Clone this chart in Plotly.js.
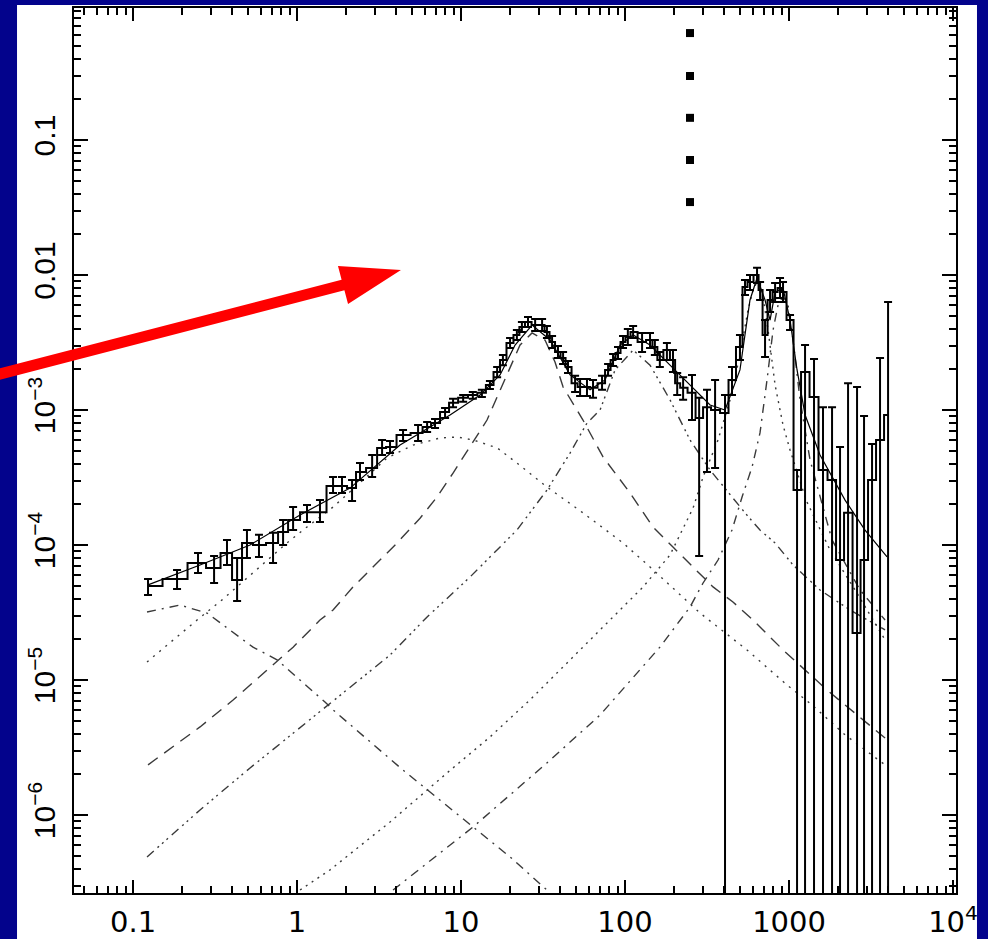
<!DOCTYPE html>
<html>
<head>
<meta charset="utf-8">
<script src="https://cdn.plot.ly/plotly-3.0.1.min.js"></script>
<style>html,body{margin:0;padding:0;background:#03038c;}#chart{width:988px;height:939px;}</style>
</head>
<body>
<div id="chart"></div>
<script>
// ---- observed power spectrum (frequency, power, error-bar upper / lower ends) ----
const freq = [0.1234, 0.1855, 0.249, 0.312, 0.374, 0.431, 0.495, 0.586, 0.714, 0.822,
  0.946, 1.15, 1.38, 1.658, 1.88, 2.165, 2.42, 2.87, 3.30, 3.69,
  4.43, 5.47, 6.21, 6.94, 7.99, 8.94, 10.3, 11.8, 13.4, 15.0,
  16.6, 18.0, 19.9, 21.9, 23.5, 25.6, 28.3, 31.2, 33.4, 35.9,
  39.0, 41.9, 44.9, 49.6, 53.2, 58.6, 63.8, 72.4, 78.8, 84.5,
  90.6, 97.2, 104, 112, 127, 142, 152, 163, 180, 196,
  208, 226, 256, 283, 316, 354, 407, 449, 502, 539,
  578, 638, 666, 714, 766, 822, 881, 919, 1014, 1119,
  1252, 1420, 1611, 1829, 2046, 2290, 2598, 2866, 3207, 3588, 4016];
const power = [4.97e-5, 5.6e-5, 7.36e-5, 6.76e-5, 8.73e-5, 5.5e-5, 1.035e-4, 1.0e-4, 1.035e-4, 1.25e-4,
  1.53e-4, 1.75e-4, 1.75e-4, 2.74e-4, 2.74e-4, 2.64e-4, 3.47e-4, 3.72e-4, 5.23e-4, 5.32e-4,
  6.53e-4, 6.76e-4, 7.48e-4, 8.0e-4, 9.66e-4, 1.13e-3, 1.23e-3, 1.29e-3, 1.34e-3, 1.53e-3,
  1.91e-3, 2.35e-3, 3.13e-3, 3.59e-3, 4.12e-3, 4.49e-3, 4.26e-3, 4.26e-3, 3.78e-3, 3.19e-3,
  2.69e-3, 2.43e-3, 2.08e-3, 1.58e-3, 1.48e-3, 1.48e-3, 1.46e-3, 1.58e-3, 1.98e-3, 2.35e-3,
  2.64e-3, 3.19e-3, 3.47e-3, 3.78e-3, 3.19e-3, 3.3e-3, 2.93e-3, 2.35e-3, 2.78e-3, 2.35e-3,
  1.58e-3, 1.46e-3, 1.34e-3, 8.73e-4, 1.05e-3, 1.0e-3, 9.5e-4, 1.67e-3, 2.93e-3, 8.15e-3,
  8.87e-3, 1.0e-2, 7.74e-3, 3.59e-3, 6.53e-3, 7.48e-3, 8.0e-3, 7.48e-3, 4.64e-3, 2.55e-4,
  1.91e-3, 1.25e-3, 3.59e-4, 3.03e-4, 7.74e-5, 1.73e-4, 2.23e-5, 7.74e-5, 3.03e-4, 6.0e-4, 9.18e-4];
const powerHi = [5.6e-5, 6.53e-5, 8.73e-5, 8.3e-5, 1.09e-4, 8.0e-5, 1.29e-4, 1.19e-4, 1.23e-4, 1.53e-4,
  1.91e-4, 1.98e-4, 2.15e-4, 3.19e-4, 3.19e-4, 3.03e-4, 4.05e-4, 4.64e-4, 6.0e-4, 5.9e-4,
  7.11e-4, 7.74e-4, 8.15e-4, 8.58e-4, 1.035e-3, 1.21e-3, 1.29e-3, 1.36e-3, 1.41e-3, 1.64e-3,
  2.08e-3, 2.55e-3, 3.41e-3, 3.91e-3, 4.49e-3, 4.89e-3, 4.72e-3, 4.72e-3, 4.19e-3, 3.53e-3,
  2.98e-3, 2.69e-3, 2.31e-3, 1.79e-3, 1.7e-3, 1.7e-3, 1.67e-3, 1.79e-3, 2.19e-3, 2.6e-3,
  2.93e-3, 3.53e-3, 3.98e-3, 4.19e-3, 3.72e-3, 3.72e-3, 3.3e-3, 2.69e-3, 3.13e-3, 2.78e-3,
  1.88e-3, 1.75e-3, 1.82e-3, 1.23e-3, 1.41e-3, 1.67e-3, 1.29e-3, 2.08e-3, 3.59e-3, 9.18e-3,
  1.0e-2, 1.13e-2, 8.87e-3, 4.64e-3, 7.74e-3, 8.73e-3, 9.5e-3, 8.87e-3, 5.06e-3, 3.59e-4,
  3.03e-3, 2.39e-3, 1.05e-3, 1.05e-3, 5.32e-4, 1.58e-3, 1.48e-3, 9.03e-4, 5.6e-4, 2.43e-3, 6.31e-3];
const powerLo = [4.26e-5, 4.72e-5, 6.2e-5, 5.23e-5, 7.11e-5, 3.85e-5, 8.0e-5, 8.15e-5, 7.36e-5, 1.0e-4,
  1.29e-4, 1.48e-4, 1.48e-4, 2.43e-4, 2.43e-4, 2.12e-4, 3.03e-4, 3.19e-4, 4.64e-4, 4.8e-4,
  5.9e-4, 5.9e-4, 6.87e-4, 7.36e-4, 8.73e-4, 1.05e-3, 1.15e-3, 1.21e-3, 1.25e-3, 1.43e-3,
  1.75e-3, 2.15e-3, 2.88e-3, 3.3e-3, 3.78e-3, 4.12e-3, 3.85e-3, 3.85e-3, 3.41e-3, 2.88e-3,
  2.43e-3, 2.19e-3, 1.88e-3, 1.36e-3, 1.27e-3, 1.27e-3, 1.23e-3, 1.41e-3, 1.79e-3, 2.12e-3,
  2.39e-3, 2.88e-3, 3.03e-3, 3.41e-3, 2.69e-3, 2.88e-3, 2.55e-3, 2.08e-3, 2.35e-3, 1.91e-3,
  1.29e-3, 1.19e-3, 8.43e-4, 8.3e-5, 3.47e-4, 3.72e-4, 1e-9, 1.29e-3, 2.35e-3, 7.11e-3,
  7.74e-3, 8.73e-3, 6.53e-3, 2.47e-3, 5.32e-3, 6.31e-3, 6.76e-3, 6.31e-3, 3.91e-3, 1e-9,
  1e-9, 1e-9, 1e-9, 1e-9, 1e-9, 1e-9, 1e-9, 1e-9, 1e-9, 1e-9, 1e-9];

// ---- total model ----
const modelX = [0.1234, 0.2562, 0.517, 1.043, 2.104, 4.246, 8.57, 13.06, 17.29, 21.35, 27.1, 34.9, 46.2, 61.2, 75.5, 93.2, 112, 142, 188, 249, 330, 407, 502, 578, 638, 714, 766, 822, 919, 1014, 1119, 1253, 1545, 2196, 2906, 3960];
const modelY = [5.06e-5, 7.11e-5, 1.0e-4, 1.67e-4, 2.64e-4, 5.5e-4, 9.18e-4, 1.29e-3, 1.82e-3, 3.03e-3, 4.26e-3, 3.3e-3, 1.82e-3, 1.41e-3, 1.67e-3, 3.03e-3, 3.59e-3, 3.03e-3, 2.15e-3, 1.53e-3, 1.09e-3, 1.0e-3, 1.98e-3, 6.53e-3, 9.5e-3, 6.53e-3, 4.64e-3, 7.48e-3, 8.0e-3, 4.64e-3, 1.98e-3, 9.18e-4, 4.64e-4, 2.15e-4, 1.29e-4, 8.15e-5];

// ---- model components ----
const compAX = [0.1217, 0.1935, 0.2827, 0.4073, 0.539, 0.755, 1.043, 1.48, 1.658, 4.43, 11.84, 19.9, 33.4];
const compAY = [3.19e-5, 3.59e-5, 3.13e-5, 2.27e-5, 1.75e-5, 1.41e-5, 1.0e-5, 6.87e-6, 6.0e-6, 2.15e-6, 8.15e-7, 4.89e-7, 2.78e-7];
const compBX = [0.1217, 0.1754, 0.2456, 0.3488, 0.539, 0.869, 1.15, 1.658, 2.526, 3.538, 5.096, 7.447, 9.45, 11.84, 16.6, 21.9, 33.4, 55.4, 97.2, 142, 286.7, 554, 972, 1381, 2196, 3850];
const compBY = [1.36e-5, 1.98e-5, 2.78e-5, 3.92e-5, 6.2e-5, 1.035e-4, 1.36e-4, 1.91e-4, 3.03e-4, 4.41e-4, 5.5e-4, 6.2e-4, 6.31e-4, 6.0e-4, 5.24e-4, 4.05e-4, 2.69e-4, 1.73e-4, 1.035e-4, 6.87e-5, 3.13e-5, 1.67e-5, 9.18e-6, 6.53e-6, 3.92e-6, 2.35e-6];
const compCX = [0.1234, 0.1754, 0.2562, 0.4073, 0.6566, 0.946, 1.38, 1.658, 2.195, 2.907, 4.072, 5.623, 7.14, 8.94, 11.34, 14.4, 16.6, 19.9, 22.9, 27.1, 32.5, 37.4, 41.9, 55.4, 73.4, 107.3, 148, 196, 260, 344, 455, 603, 919, 1217, 1705, 2196, 3850];
const compCY = [2.35e-6, 3.19e-6, 4.49e-6, 7.11e-6, 1.19e-5, 1.75e-5, 2.78e-5, 3.3e-5, 4.89e-5, 6.87e-5, 1.035e-4, 1.58e-4, 2.27e-4, 3.41e-4, 5.32e-4, 8.43e-4, 1.25e-3, 2.08e-3, 3.03e-3, 3.72e-3, 3.3e-3, 2.27e-3, 1.48e-3, 8.43e-4, 4.49e-4, 2.43e-4, 1.36e-4, 9.66e-5, 6.87e-5, 4.89e-5, 3.78e-5, 2.78e-5, 1.67e-5, 1.23e-5, 8.43e-6, 6.53e-6, 3.72e-6];
const compDX = [0.1217, 0.2562, 0.517, 1.589, 3.69, 6.21, 11.34, 21.9, 33.4, 46.2, 58.6, 70.4, 86.9, 112, 142, 188, 249, 330, 436.8, 539, 665, 822, 1058, 1545, 2355, 3850];
const compDY = [4.89e-7, 1.09e-6, 2.23e-6, 6.76e-6, 1.53e-5, 2.93e-5, 5.79e-5, 1.29e-4, 2.55e-4, 4.8e-4, 8.0e-4, 1.0e-3, 1.98e-3, 2.78e-3, 2.15e-3, 1.19e-3, 6.0e-4, 3.59e-4, 2.35e-4, 1.73e-4, 1.29e-4, 1.035e-4, 7.11e-5, 4.64e-5, 3.3e-5, 2.35e-5];
const compEX = [3.85, 11.84, 33.4, 70.4, 163, 249, 299, 369, 449, 517, 595, 665, 734, 799, 857, 919, 986, 1058, 1167, 1343, 1828, 2710, 3850];
const compEY = [2.78e-7, 8.15e-7, 2.43e-6, 5.5e-6, 1.75e-5, 3.47e-5, 5.23e-5, 7.74e-5, 1.29e-4, 2.27e-4, 3.78e-4, 6.76e-4, 1.67e-3, 3.91e-3, 6.0e-3, 6.98e-3, 6.0e-3, 3.3e-3, 1.19e-3, 4.26e-4, 1.09e-4, 4.64e-5, 2.78e-5];
const compFX = [1.043, 1.589, 3.69, 8.22, 15.0, 26.3, 49.5, 93.2, 128.8, 188, 260, 299, 369, 437, 502, 562, 603, 638, 684, 745, 822, 919, 1014, 1270, 1778, 2526, 3850];
const compFY = [2.78e-7, 3.92e-7, 8.87e-7, 2.05e-6, 3.78e-6, 7.11e-6, 1.53e-5, 3.3e-5, 4.89e-5, 8.43e-5, 1.88e-4, 3.19e-4, 6.0e-4, 1.19e-3, 2.55e-3, 5.5e-3, 7.74e-3, 8.87e-3, 7.74e-3, 3.91e-3, 1.53e-3, 7.74e-4, 5.06e-4, 2.15e-4, 9.18e-5, 4.64e-5, 1.98e-5];

// ---- column of square markers ----
const markX = [249, 249, 249, 249, 249];
const markY = [0.62, 0.298, 0.146, 0.0711, 0.0347];

// ---- tick labels ----
const xTickVals = [0.1, 1, 10, 100, 1000, 10000];
const xTickText = ['0.1', '1', '10', '100', '1000', '10<sup>4</sup>'];
const yTickVals = [1e-6, 1e-5, 1e-4, 1e-3, 0.01, 0.1];
const yTickText = ['10<sup>\u22126</sup>', '10<sup>\u22125</sup>', '10<sup>\u22124</sup>', '10<sup>\u22123</sup>', '0.01', '0.1'];

function minorTicks(lo, hi) {
  const out = [];
  for (let d = lo; d <= hi; d++) for (let k = 2; k <= 9; k++) out.push(k * Math.pow(10, d));
  return out;
}

const errPlus = power.map((v, i) => powerHi[i] - v);
const errMinus = power.map((v, i) => v - powerLo[i]);

const compStyle = (dash) => ({color: '#3a3a3a', width: 1.4, dash: dash});
const traces = [
  {x: compAX, y: compAY, mode: 'lines', line: compStyle('9px,6px,2px,6px'), hoverinfo: 'skip'},
  {x: compBX, y: compBY, mode: 'lines', line: compStyle('2px,6px'), hoverinfo: 'skip'},
  {x: compCX, y: compCY, mode: 'lines', line: compStyle('12px,8px'), hoverinfo: 'skip'},
  {x: compDX, y: compDY, mode: 'lines', line: compStyle('9px,5px,2px,4px,2px,4px,2px,5px'), hoverinfo: 'skip'},
  {x: compEX, y: compEY, mode: 'lines', line: compStyle('9px,6px,2px,6px'), hoverinfo: 'skip'},
  {x: compFX, y: compFY, mode: 'lines', line: compStyle('2px,5px'), hoverinfo: 'skip'},
  {x: modelX, y: modelY, mode: 'lines', line: {color: 'black', width: 1.2}},
  {x: freq, y: power, mode: 'lines', line: {shape: 'hvh', color: 'black', width: 2},
   error_y: {type: 'data', symmetric: false, array: errPlus, arrayminus: errMinus, color: 'black', thickness: 2, width: 4}},
  {x: markX, y: markY, mode: 'markers', marker: {symbol: 'square', size: 8, color: 'black'}}
];

const layout = {
  width: 988, height: 939,
  margin: {l: 74, r: 32, t: 8, b: 46, pad: 0},
  font: {family: 'Liberation Sans, Arial, sans-serif', size: 28, color: 'black'},
  paper_bgcolor: '#03038c',
  plot_bgcolor: 'white',
  showlegend: false,
  xaxis: {
    type: 'log', range: [-1.36, 4.018], tickmode: 'array', tickvals: xTickVals, ticktext: xTickText,
    ticks: 'inside', ticklen: 13, tickwidth: 2, tickcolor: 'black',
    showline: true, linecolor: 'black', linewidth: 2, mirror: 'allticks', showgrid: false, zeroline: false,
    tickfont: {family: 'DejaVu Sans, sans-serif', size: 29, color: 'black'}, ticklabelstandoff: 2,
    minor: {tickmode: 'array', tickvals: minorTicks(-2, 3), ticks: 'inside', ticklen: 7, tickwidth: 2, tickcolor: 'black', showgrid: false}
  },
  yaxis: {
    type: 'log', range: [-6.578, -0.022], tickmode: 'array', tickvals: yTickVals, ticktext: yTickText,
    ticks: 'inside', ticklen: 14, tickwidth: 2, tickcolor: 'black',
    showline: true, linecolor: 'black', linewidth: 2, mirror: 'allticks', showgrid: false, zeroline: false,
    tickfont: {family: 'Liberation Sans, Arial, sans-serif', size: 30, color: 'black'}, tickangle: -90, ticklabelstandoff: 5,
    minor: {tickmode: 'array', tickvals: minorTicks(-7, 0), ticks: 'inside', ticklen: 7, tickwidth: 2, tickcolor: 'black', showgrid: false}
  },
  shapes: [
    {type: 'rect', xref: 'paper', yref: 'paper', x0: -0.0646, x1: 1.0238, y0: -0.06, y1: 1.0034,
     fillcolor: 'white', line: {width: 0}, layer: 'below'},
    {type: 'path', xref: 'paper', yref: 'paper', layer: 'above', fillcolor: '#ff0000', line: {width: 0},
     path: 'M -0.0968 0.5895 L 0.3034 0.6930 L 0.2993 0.7085 L 0.3707 0.7040 L 0.3107 0.6655 L 0.3066 0.6810 L -0.0937 0.5775 Z'}
  ]
};

Plotly.newPlot('chart', traces, layout, {staticPlot: true, displayModeBar: false});
</script>
</body>
</html>
